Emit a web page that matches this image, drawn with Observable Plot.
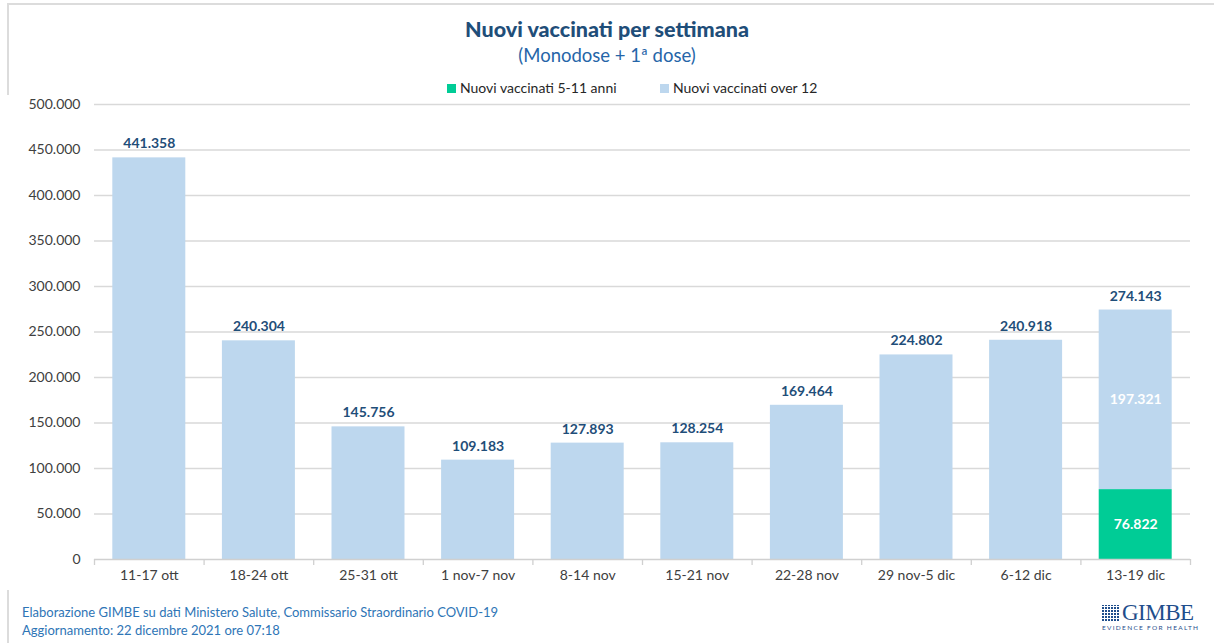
<!DOCTYPE html>
<html><head><meta charset="utf-8">
<script src="https://cdn.jsdelivr.net/npm/d3@7"></script>
<script src="https://cdn.jsdelivr.net/npm/@observablehq/plot@0.6"></script>
<style>
body{margin:0;background:#fff;font-family:Lato,"Noto Sans",sans-serif;}
#page{position:relative;width:1214px;height:643px;overflow:hidden;background:#fff;}
.frame-top{position:absolute;left:7px;top:3px;right:0;height:0;border-top:2px solid #dcdcdc;}
.frame-left{position:absolute;left:7px;top:3px;bottom:0;width:0;border-left:2px solid #dcdcdc;}
#title{position:absolute;top:16px;left:0;width:1214px;text-align:center;font-weight:900;font-size:21.5px;color:#1f4e79;}
#subtitle{position:absolute;top:44px;left:0;width:1214px;text-align:center;font-size:18.5px;color:#2565a8;}
#legend{position:absolute;top:79px;left:0;width:1214px;font-size:14px;color:#262626;}
.li{position:absolute;white-space:nowrap;}
.sw{display:inline-block;width:9px;height:9px;margin-right:4px;vertical-align:0px;}
#chart{position:absolute;left:0;top:95px;}
#footer{position:absolute;left:22px;top:603px;font-size:13px;line-height:18px;color:#2e75b6;}
#logo{position:absolute;left:1101px;top:602px;width:100px;height:30px;}
#logo .icon{position:absolute;left:1px;top:3px;width:18px;height:16px;background:#1f4e8c;
 background-image:repeating-linear-gradient(90deg,transparent 0 2px,#fff 2px 3px),repeating-linear-gradient(0deg,transparent 0 2px,#fff 2px 3px);}
#logo .word{position:absolute;left:21px;top:-2px;font-family:"Liberation Serif",serif;font-size:23px;color:#1f4e8c;letter-spacing:-0.5px;}
#logo .tag{position:absolute;left:1px;top:22px;font-size:6.5px;letter-spacing:1.3px;color:#1f4e8c;white-space:nowrap;}
</style>
</head><body>
<div id="page">
  <div class="frame-top"></div><div class="frame-left"></div>
  <div id="title">Nuovi vaccinati per settimana</div>
  <div id="subtitle">(Monodose + 1ª dose)</div>
  <div id="legend"></div>
  <div id="chart"></div>
  <div id="footer">Elaborazione GIMBE su dati Ministero Salute, Commissario Straordinario COVID-19<br>Aggiornamento: 22 dicembre 2021 ore 07:18</div>
  <div id="logo"><div class="icon"></div><div class="word">GIMBE</div><div class="tag">EVIDENCE FOR HEALTH</div></div>
</div>
<script>
const weeks = ["11-17 ott","18-24 ott","25-31 ott","1 nov-7 nov","8-14 nov","15-21 nov","22-28 nov","29 nov-5 dic","6-12 dic","13-19 dic"];
const kids511 = [0,0,0,0,0,0,0,0,0,76822];
const over12 = [441358,240304,145756,109183,127893,128254,169464,224802,240918,197321];
const seriesNames = ["Nuovi vaccinati 5-11 anni","Nuovi vaccinati over 12"];
const seriesColors = ["#00cc96","#bdd7ee"];
const yTicks = [0,50000,100000,150000,200000,250000,300000,350000,400000,450000,500000];

const it = d3.formatLocale({decimal:",",thousands:".",grouping:[3],currency:["€",""]});
const fmt = it.format(",d");

const rows = weeks.flatMap((w,i)=>[
  {week:w, serie:seriesNames[0], value:kids511[i]},
  {week:w, serie:seriesNames[1], value:over12[i]}
]);
const totals = weeks.map((w,i)=>({week:w, total:kids511[i]+over12[i]}));
const kidsByWeek = new Map(weeks.map((w,i)=>[w,kids511[i]]));

// legend
const legend = document.getElementById("legend");
const legendX = [447,660];
seriesNames.forEach((s,i)=>{
  const el = document.createElement("span");
  el.className="li"; el.style.left=legendX[i]+"px";
  el.innerHTML = `<span class="sw" style="background:${seriesColors[i]}"></span>${s}`;
  legend.appendChild(el);
});

const W = 1214, H = 495, mL = 94, mR = 24, mT = 9, mB = 31;
const step = (W - mL - mR) / weeks.length;

const chart = Plot.plot({
  width: W, height: H,
  marginLeft: mL, marginRight: mR, marginTop: mT, marginBottom: mB,
  style: {fontFamily: "Lato, 'Noto Sans', sans-serif", background: "white"},
  x: {type: "band", domain: weeks, paddingInner: 0.334, paddingOuter: 0.167, round: false, label: null},
  y: {domain: [0, 500000], label: null},
  color: {domain: seriesNames, range: seriesColors},
  marks: [
    Plot.gridY(yTicks.filter(v => v > 0), {stroke: "#d9d9d9", strokeOpacity: 1, strokeWidth: 1.3}),
    Plot.barY(rows, {x: "week", y: "value", fill: "serie"}),
    Plot.ruleY([0], {stroke: "#d0d0d0", strokeWidth: 1.3}),
    Plot.ruleX(weeks, {x: d => d, dx: -step/2, y1: 0, y2: 0, insetBottom: -6, stroke: "#d0d0d0", strokeWidth: 1.3}),
    Plot.ruleX(weeks.slice(-1), {x: d => d, dx: step/2, y1: 0, y2: 0, insetBottom: -6, stroke: "#d0d0d0", strokeWidth: 1.3}),
    Plot.text(totals, {x: "week", y: "total", text: d => fmt(d.total), dy: -14, fill: "#1f4e79", fontWeight: "bold", fontSize: 14}),
    Plot.text(rows, Plot.stackY({filter: d => kidsByWeek.get(d.week) > 0, x: "week", y: "value", text: d => fmt(d.value), fill: "white", fontWeight: "bold", fontSize: 14})),
    Plot.axisY({ticks: yTicks, tickFormat: fmt, tickSize: 0, tickPadding: 14, fontSize: 14, color: "#404040", label: null}),
    Plot.axisX({tickSize: 0, tickPadding: 11, fontSize: 14, color: "#404040", label: null})
  ]
});
document.getElementById("chart").appendChild(chart);
</script>
</body></html>
